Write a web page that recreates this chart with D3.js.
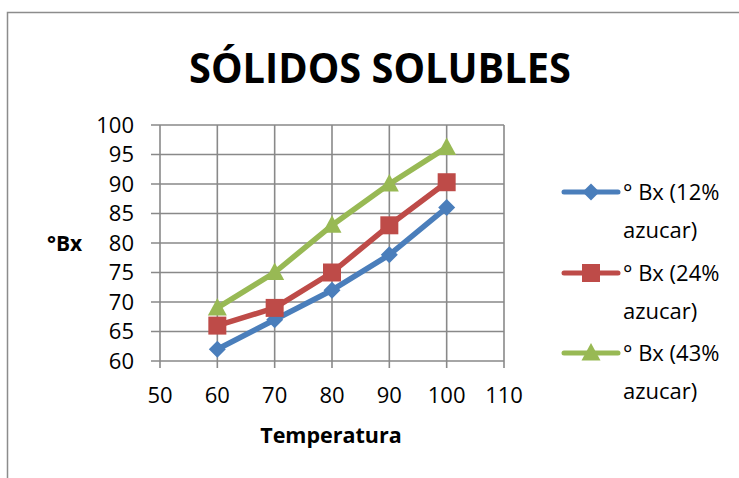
<!DOCTYPE html>
<html>
<head>
<meta charset="utf-8">
<script src="https://cdn.jsdelivr.net/npm/d3@7"></script>
<style>
  html, body { margin: 0; padding: 0; background: #fff; }
  svg { display: block; }
  text { font-family: "Open Sans", "DejaVu Sans", sans-serif; fill: #000; }
</style>
</head>
<body>
<svg id="chart" width="739" height="478"></svg>
<script>
const temperatures = [60, 70, 80, 90, 100];
const seriesNames = ["° Bx (12%|azucar)", "° Bx (24%|azucar)", "° Bx (43%|azucar)"];
const bx12 = [62, 67, 72, 78, 86];
const bx24 = [66, 69, 75, 83, 90.3];
const bx43 = [69, 75, 83, 90, 96.2];
const xTicks = [50, 60, 70, 80, 90, 100, 110];
const yTicks = [60, 65, 70, 75, 80, 85, 90, 95, 100];
const colors = ["#4A7EBB", "#BE4B48", "#98B954"];
const markers = ["diamond", "square", "triangle"];

const svg = d3.select("#chart");

// outer chart border
svg.append("rect")
  .attr("x", 7.5).attr("y", 12.5)
  .attr("width", 800).attr("height", 600)
  .attr("fill", "none").attr("stroke", "#8c8c8c").attr("stroke-width", 1.5);

const x = d3.scaleLinear().domain([50, 110]).range([160, 504]);
const y = d3.scaleLinear().domain([60, 100]).range([361, 125]);

const grid = "#898989";
svg.append("g").selectAll("line").data(yTicks).join("line")
  .attr("x1", 151).attr("x2", x(110))
  .attr("y1", d => y(d)).attr("y2", d => y(d))
  .attr("stroke", grid).attr("stroke-width", 1.6);
svg.append("g").selectAll("line").data(xTicks).join("line")
  .attr("x1", d => x(d)).attr("x2", d => x(d))
  .attr("y1", y(100)).attr("y2", 368)
  .attr("stroke", grid).attr("stroke-width", 1.6);

// tick labels
svg.append("g").selectAll("text").data(yTicks).join("text")
  .attr("x", 134).attr("y", d => y(d)).attr("dy", "0.36em")
  .attr("text-anchor", "end").attr("font-size", 22)
  .text(d => d);
svg.append("g").selectAll("text").data(xTicks).join("text")
  .attr("x", d => x(d)).attr("y", 403)
  .attr("text-anchor", "middle").attr("font-size", 22)
  .text(d => d);

// titles
svg.append("text").attr("x", 380).attr("y", 83)
  .attr("text-anchor", "middle").attr("font-size", 41).attr("font-weight", "bold")
  .attr("textLength", 382).attr("lengthAdjust", "spacingAndGlyphs")
  .text("SÓLIDOS SOLUBLES");
svg.append("text").attr("x", 331).attr("y", 443)
  .attr("text-anchor", "middle").attr("font-size", 21.5).attr("font-weight", "bold")
  .text("Temperatura");
svg.append("text").attr("x", 47).attr("y", 251)
  .attr("font-size", 21).attr("font-weight", "bold")
  .text("°Bx");

function markerPath(type) {
  if (type === "diamond") return "M0,-8.5L8.5,0L0,8.5L-8.5,0Z";
  if (type === "square") return "M-9,-9H9V9H-9Z";
  return "M0,-10L9.5,7.5L-9.5,7.5Z";
}

const allSeries = [bx12, bx24, bx43];
const line = d3.line().x((d, i) => x(temperatures[i])).y(d => y(d));

allSeries.forEach((vals, si) => {
  const g = svg.append("g");
  g.append("path").attr("d", line(vals))
    .attr("fill", "none").attr("stroke", colors[si]).attr("stroke-width", 5.5)
    .attr("stroke-linejoin", "round").attr("stroke-linecap", "round");
  g.selectAll("path.m").data(vals).join("path").attr("class", "m")
    .attr("transform", (d, i) => `translate(${x(temperatures[i])},${y(d)})`)
    .attr("d", markerPath(markers[si]))
    .attr("fill", colors[si]);
});

// legend
const legendY = [192, 273, 353];
seriesNames.forEach((name, si) => {
  const g = svg.append("g").attr("transform", `translate(0,${legendY[si]})`);
  g.append("line").attr("x1", 564).attr("x2", 618).attr("y1", 0).attr("y2", 0)
    .attr("stroke", colors[si]).attr("stroke-width", 5).attr("stroke-linecap", "round");
  g.append("path").attr("transform", "translate(591,0)")
    .attr("d", markerPath(markers[si])).attr("fill", colors[si]);
  const parts = name.split("|");
  g.append("text").attr("x", 623).attr("y", 0).attr("dy", "0.36em")
    .attr("font-size", 22).text(parts[0]);
  g.append("text").attr("x", 623).attr("y", 38).attr("dy", "0.36em")
    .attr("font-size", 22).text(parts[1]);
});
</script>
</body>
</html>
